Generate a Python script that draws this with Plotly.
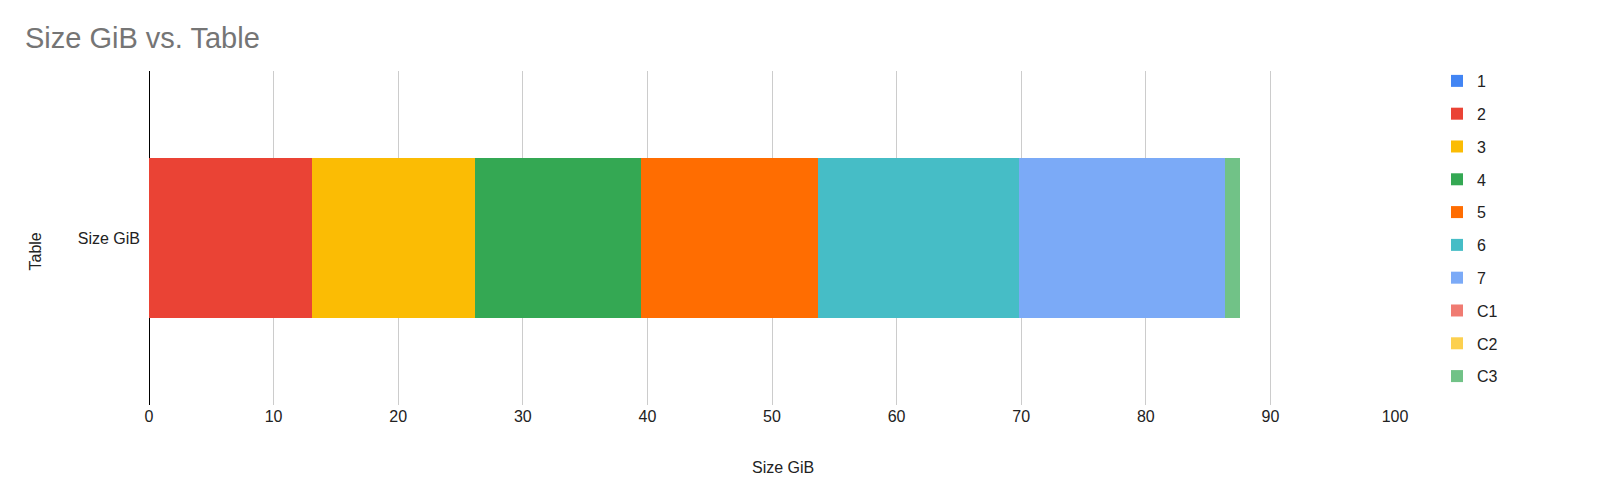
import plotly.graph_objects as go

category = ["Size GiB"]
series_names = ["1", "2", "3", "4", "5", "6", "7", "C1", "C2", "C3"]
series_values = [0.0, 13.06, 13.13, 13.30, 14.17, 16.16, 16.56, 0.0, 0.0, 1.16]
series_colors = ["#4285f4", "#ea4335", "#fbbc04", "#34a853", "#ff6d01",
                 "#46bdc6", "#7baaf7", "#f07b72", "#fcd04f", "#71c287"]
x_ticks = [0, 10, 20, 30, 40, 50, 60, 70, 80, 90, 100]

FONT = "Liberation Sans, Arial, sans-serif"

fig = go.Figure()
for name, val, col in zip(series_names, series_values, series_colors):
    fig.add_trace(go.Bar(
        y=category, x=[val], name=name, orientation="h",
        marker=dict(color=col, line=dict(width=0)),
        legendgroup=name,
    ))

fig.update_layout(
    width=1600, height=502,
    barmode="stack", bargap=0.52,
    plot_bgcolor="white", paper_bgcolor="white",
    margin=dict(l=149, r=205, t=71, b=97, autoexpand=False),
    font=dict(family=FONT, size=16, color="#222222"),
    title=dict(text="Size GiB vs. Table", x=25/1600, xref="container", xanchor="left",
               y=1-38/502, yref="container", yanchor="middle",
               font=dict(size=29, color="#757575", family=FONT)),
    xaxis=dict(range=[0, 100], tickvals=x_ticks, showgrid=True, gridcolor="#cccccc",
               gridwidth=1, zeroline=True, zerolinecolor="#000000", zerolinewidth=1,
               showline=False, ticks="", automargin=False,
               tickfont=dict(size=16, color="#222222"), fixedrange=True),
    yaxis=dict(showgrid=False, zeroline=False, showline=False, ticks="",
               ticklabelstandoff=8, automargin=False,
               tickfont=dict(size=16, color="#222222")),
    legend=dict(x=(1437-149)/1246, xanchor="left", y=1.021, yanchor="top",
                traceorder="grouped", tracegroupgap=9, maxheight=480,
                font=dict(size=16, color="#222222", family=FONT)),
    showlegend=True,
    annotations=[
        dict(text="Size GiB", x=(783-149)/1246, y=(405-467)/334, xref="paper", yref="paper",
             showarrow=False, xanchor="center", yanchor="middle",
             font=dict(size=16, color="#222222", family=FONT)),
        dict(text="Table", x=(34.5-149)/1246, y=(405-252)/334, xref="paper", yref="paper",
             showarrow=False, xanchor="center", yanchor="middle", textangle=-90,
             font=dict(size=16, color="#222222", family=FONT)),
    ],
)

fig.write_html("out.html", config={"displayModeBar": False},
               post_script="document.body.style.margin='0';document.body.style.overflow='hidden';")
